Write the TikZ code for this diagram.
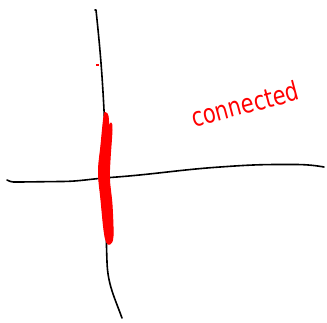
\documentclass[tikz,border=0pt]{standalone}
\usepackage{fontspec}
\newfontfamily\handfont{DejaVu Sans}
\begin{document}
\begin{tikzpicture}[x=1pt,y=-1pt,
  pen/.style={black,line width=1.6pt,line cap=round,line join=round},
  marker/.style={red,fill=red,line width=1pt,line join=round},
  note/.style={red,font=\handfont\fontsize{21}{21}\selectfont,inner sep=0pt,rotate=15,yscale=1.25}]
\useasboundingbox (0,0) rectangle (327,322);
% vertical line
\coordinate (vtop) at (96,10);
\coordinate (vbot) at (122,318);
\draw[pen] (95,10) -- (vtop) to[out=-84,in=93] (104,110)
  to[out=-87,in=90] (106,200) to[out=-90,in=92] (107,262)
  to[out=-88,in=110] (vbot);
% horizontal line
\coordinate (hl) at (7,180);
\coordinate (hr) at (324,167);
\draw[pen] (hl) to[out=-30,in=180] (20,182) -- (60,181.5)
  to[out=0,in=184] (110,177.5) to[out=4,in=184] (220,167)
  to[out=4,in=180] (280,164.5) to[out=0,in=170] (hr);
% red scribble
\draw[marker] plot[smooth cycle,tension=0.6] coordinates {
  (104,116) (101,145) (98.5,172) (101,200) (104,230) (106.5,242)
  (110,244) (113,236) (112,205) (109.5,180) (110,160) (112,130)
  (111,123) (109,126) (108,116) (106,113)};
\draw[red,line width=2pt] (96,65) -- (99,65);
% text
\node[note] (conn) at (245,104) {connected};
\end{tikzpicture}
\end{document}
